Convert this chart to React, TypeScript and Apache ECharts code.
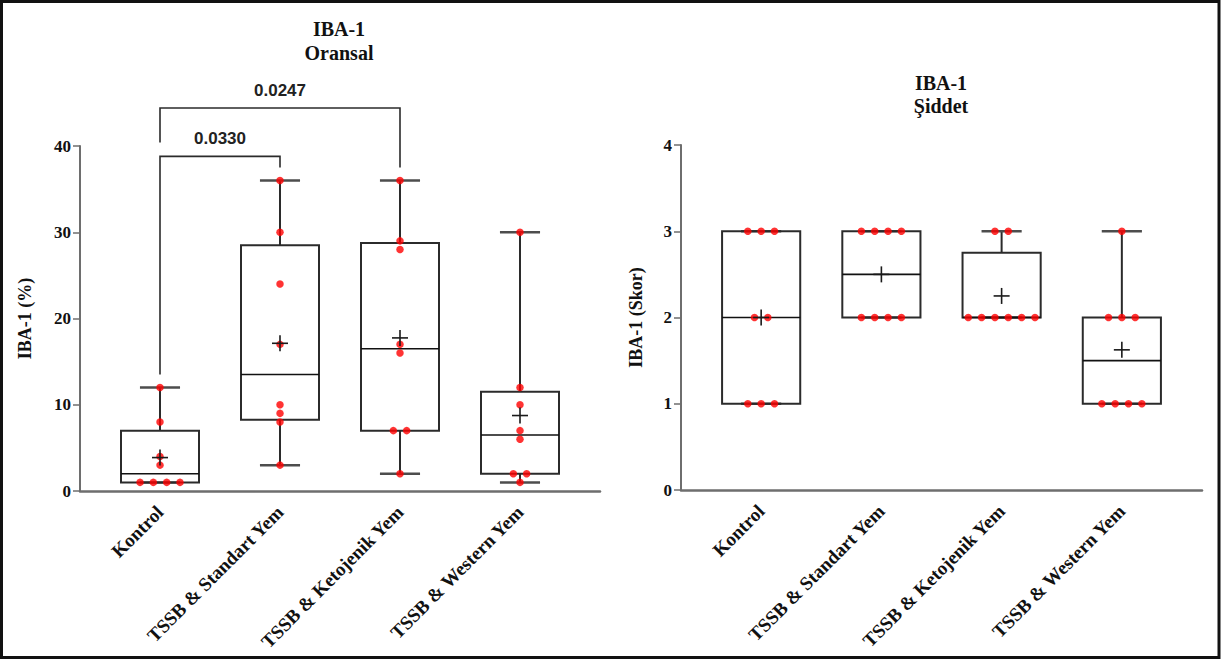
import React, { useEffect, useRef } from 'react';
import * as echarts from 'echarts';

// Group names shared by both panels
const groups = ['Kontrol', 'TSSB & Standart Yem', 'TSSB & Ketojenik Yem', 'TSSB & Western Yem'];

// IBA-1 (%) per animal
const oransalKontrol = [1, 1, 1, 1, 3, 4, 8, 12];
const oransalStandart = [3, 8, 9, 10, 17, 24, 30, 36];
const oransalKetojenik = [2, 7, 7, 16, 17, 28, 29, 36];
const oransalWestern = [1, 2, 2, 6, 7, 10, 12, 30];

// IBA-1 severity score per animal
const siddetKontrol = [1, 1, 1, 2, 2, 3, 3, 3];
const siddetStandart = [2, 2, 2, 2, 3, 3, 3, 3];
const siddetKetojenik = [2, 2, 2, 2, 2, 2, 3, 3];
const siddetWestern = [1, 1, 1, 1, 2, 2, 2, 3];

const oransalTicks = [0, 10, 20, 30, 40];
const siddetTicks = [0, 1, 2, 3, 4];

// Pairwise comparisons on the percentage panel
const comparisons = [
  { from: 0, to: 2, p: '0.0247' },
  { from: 0, to: 1, p: '0.0330' },
];
// Bracket heights in axis units: horizontal bar, left leg end, right leg end
const bracketLevels = [
  [44.4, 40.4, 37.5],
  [38.8, 13.5, 37.5],
];

const oransal = [oransalKontrol, oransalStandart, oransalKetojenik, oransalWestern];
const siddet = [siddetKontrol, siddetStandart, siddetKetojenik, siddetWestern];

const SERIF = "'Liberation Serif', 'Times New Roman', serif";
const SANS = "'Liberation Sans', Arial, sans-serif";
const INK = '#2b2b2b';
const AXIS = '#6e6e6e';

// Percentile using the (n + 1)p rank rule
function percentile(sorted: number[], p: number) {
  const n = sorted.length;
  const pos = (n + 1) * p;
  const lo = Math.floor(pos);
  const frac = pos - lo;
  if (lo < 1) return sorted[0];
  if (lo >= n) return sorted[n - 1];
  return sorted[lo - 1] + frac * (sorted[lo] - sorted[lo - 1]);
}

function boxStats(sets: number[][]) {
  return sets.map((vals, i) => {
    const s = [...vals].sort((a, b) => a - b);
    const mean = s.reduce((a, b) => a + b, 0) / s.length;
    return [i, s[0], percentile(s, 0.25), percentile(s, 0.5), percentile(s, 0.75), s[s.length - 1], mean];
  });
}

// Spread identical values side by side around the group centre
const DOT_STEP = 0.111;
function dotPoints(sets: number[][]) {
  const out: number[][] = [];
  sets.forEach((vals, i) => {
    const counts = new Map<number, number>();
    vals.forEach((v) => counts.set(v, (counts.get(v) || 0) + 1));
    const seen = new Map<number, number>();
    vals.forEach((v) => {
      const k = counts.get(v)!;
      const j = seen.get(v) || 0;
      seen.set(v, j + 1);
      out.push([i + (j - (k - 1) / 2) * DOT_STEP, v]);
    });
  });
  return out;
}

const renderBox = (_params: any, api: any) => {
  const x = api.value(0);
  const unit = api.size([1, 0])[0];
  const hb = unit * 0.325;
  const hc = unit * 0.167;
  const [pMin, pQ1, pMed, pQ3, pMax] = [1, 2, 3, 4, 5].map((d) => api.coord([x, api.value(d)]));
  const cx = pMed[0];
  const line = (x1: number, y1: number, x2: number, y2: number, stroke: string, lineWidth: number) => ({
    type: 'line',
    shape: { x1, y1, x2, y2 },
    style: { stroke, lineWidth },
  });
  return {
    type: 'group',
    children: [
      line(cx, pQ3[1], cx, pMax[1], INK, 2),
      line(cx, pQ1[1], cx, pMin[1], INK, 2),
      line(cx - hc, pMax[1], cx + hc, pMax[1], '#4d4d4d', 2.5),
      line(cx - hc, pMin[1], cx + hc, pMin[1], '#4d4d4d', 2.5),
      {
        type: 'rect',
        shape: { x: cx - hb, y: pQ3[1], width: hb * 2, height: pQ1[1] - pQ3[1] },
        style: { fill: 'transparent', stroke: INK, lineWidth: 2 },
      },
      line(cx - hb, pMed[1], cx + hb, pMed[1], '#111', 1.6),
    ],
  };
};

const renderMean = (_params: any, api: any) => {
  const p = api.coord([api.value(0), api.value(6)]);
  const h = 8;
  return {
    type: 'group',
    children: [
      { type: 'line', shape: { x1: p[0] - h, y1: p[1], x2: p[0] + h, y2: p[1] }, style: { stroke: '#1a1a1a', lineWidth: 1.6 } },
      { type: 'line', shape: { x1: p[0], y1: p[1] - h, x2: p[0], y2: p[1] + h }, style: { stroke: '#1a1a1a', lineWidth: 1.6 } },
    ],
  };
};

const renderBracket = (params: any, api: any) => {
  const from = api.value(0);
  const to = api.value(1);
  const bar = api.value(2);
  const a = api.coord([from, api.value(3)]);
  const b = api.coord([from, bar]);
  const c = api.coord([to, bar]);
  const d = api.coord([to, api.value(4)]);
  return {
    type: 'group',
    children: [
      {
        type: 'polyline',
        shape: { points: [a, b, c, d] },
        style: { stroke: INK, lineWidth: 1.6, fill: null },
      },
      {
        type: 'text',
        x: (b[0] + c[0]) / 2,
        y: b[1] - 18,
        style: {
          text: comparisons[params.dataIndex].p,
          fontFamily: SANS,
          fontWeight: 'bold',
          fontSize: 17,
          fill: '#222',
          align: 'center',
          verticalAlign: 'middle',
        },
      },
    ],
  };
};

const makeX = (gridIndex: number) => ({
  type: 'value',
  gridIndex,
  min: -2 / 3,
  max: 11 / 3,
  axisLine: { show: true, onZero: false, lineStyle: { color: AXIS, width: 2.5 } },
  axisTick: { show: false },
  splitLine: { show: false },
  axisLabel: {
    customValues: [0, 1, 2, 3],
    formatter: (v: number) => groups[Math.round(v)] ?? '',
    rotate: 45,
    margin: 18,
    hideOverlap: false,
    fontFamily: SERIF,
    fontWeight: 'bold',
    fontSize: 19,
    color: '#111',
  },
});

const makeY = (
  gridIndex: number,
  max: number,
  interval: number,
  ticks: number[],
  name: string,
  nameGap: number
) => ({
  type: 'value',
  gridIndex,
  min: 0,
  max,
  interval,
  name,
  nameLocation: 'middle',
  nameGap,
  nameTextStyle: { fontFamily: SERIF, fontWeight: 'bold', fontSize: 18, color: '#111' },
  axisLine: { show: true, onZero: false, lineStyle: { color: AXIS, width: 2 } },
  axisTick: { show: true, length: 7, customValues: ticks, lineStyle: { color: AXIS, width: 1.5 } },
  axisLabel: {
    customValues: ticks,
    margin: 9,
    fontFamily: SERIF,
    fontWeight: 'bold',
    fontSize: 17,
    color: '#111',
  },
  splitLine: { show: false },
});

const titleStyle = { fontFamily: SERIF, fontWeight: 'bold', fontSize: 20, lineHeight: 20, color: '#111' };

export default function App() {
  const ref = useRef<HTMLDivElement>(null);

  useEffect(() => {
    const chart = echarts.init(ref.current!, null, { renderer: 'svg' });
    const leftStats = boxStats(oransal);
    const rightStats = boxStats(siddet);

    const option: any = {
      animation: false,
      backgroundColor: '#fff',
      title: [
        {
          text: 'IBA-1',
          subtext: 'Oransal',
          left: 339,
          top: 19,
          padding: 0,
          itemGap: 3.5,
          textAlign: 'center',
          textStyle: titleStyle,
          subtextStyle: titleStyle,
        },
        {
          text: 'IBA-1',
          subtext: 'Şiddet',
          left: 941,
          top: 73,
          padding: 0,
          itemGap: 3,
          textAlign: 'center',
          textStyle: titleStyle,
          subtextStyle: titleStyle,
        },
      ],
      grid: [
        { left: 80, width: 520, top: 146, height: 345 },
        { left: 681, width: 521, top: 145, height: 345 },
      ],
      xAxis: [makeX(0), makeX(1)],
      yAxis: [
        makeY(0, 40, 10, oransalTicks, 'IBA-1 (%)', 46),
        makeY(1, 4, 1, siddetTicks, 'IBA-1 (Skor)', 36),
      ],
      graphic: [
        {
          type: 'rect',
          shape: { x: 1.5, y: 1.5, width: 1217.5, height: 656 },
          style: { fill: 'transparent', stroke: '#111', lineWidth: 3 },
          silent: true,
        },
      ],
      series: [
        {
          type: 'custom',
          xAxisIndex: 0,
          yAxisIndex: 0,
          z: 1,
          clip: false,
          renderItem: renderBox,
          encode: { x: 0, y: [1, 2, 3, 4, 5] },
          data: leftStats,
        },
        {
          type: 'custom',
          xAxisIndex: 1,
          yAxisIndex: 1,
          z: 1,
          clip: false,
          renderItem: renderBox,
          encode: { x: 0, y: [1, 2, 3, 4, 5] },
          data: rightStats,
        },
        {
          type: 'scatter',
          xAxisIndex: 0,
          yAxisIndex: 0,
          z: 2,
          symbol: 'circle',
          symbolSize: 7.5,
          itemStyle: { color: '#ff0000' },
          data: dotPoints(oransal),
        },
        {
          type: 'scatter',
          xAxisIndex: 1,
          yAxisIndex: 1,
          z: 2,
          symbol: 'circle',
          symbolSize: 7.5,
          itemStyle: { color: '#ff0000' },
          data: dotPoints(siddet),
        },
        {
          type: 'custom',
          xAxisIndex: 0,
          yAxisIndex: 0,
          z: 3,
          clip: false,
          renderItem: renderMean,
          encode: { x: 0, y: 6 },
          data: leftStats,
        },
        {
          type: 'custom',
          xAxisIndex: 1,
          yAxisIndex: 1,
          z: 3,
          clip: false,
          renderItem: renderMean,
          encode: { x: 0, y: 6 },
          data: rightStats,
        },
        {
          type: 'custom',
          xAxisIndex: 0,
          yAxisIndex: 0,
          z: 1,
          clip: false,
          renderItem: renderBracket,
          encode: { x: [0, 1], y: [2, 3, 4] },
          data: comparisons.map((c, i) => [c.from, c.to, ...bracketLevels[i]]),
        },
      ],
    };

    chart.setOption(option);
    return () => chart.dispose();
  }, []);

  return (
    <div
      ref={ref}
      style={{ position: 'absolute', left: 0, top: 0, width: 1222, height: 661, background: '#fff' }}
    />
  );
}
